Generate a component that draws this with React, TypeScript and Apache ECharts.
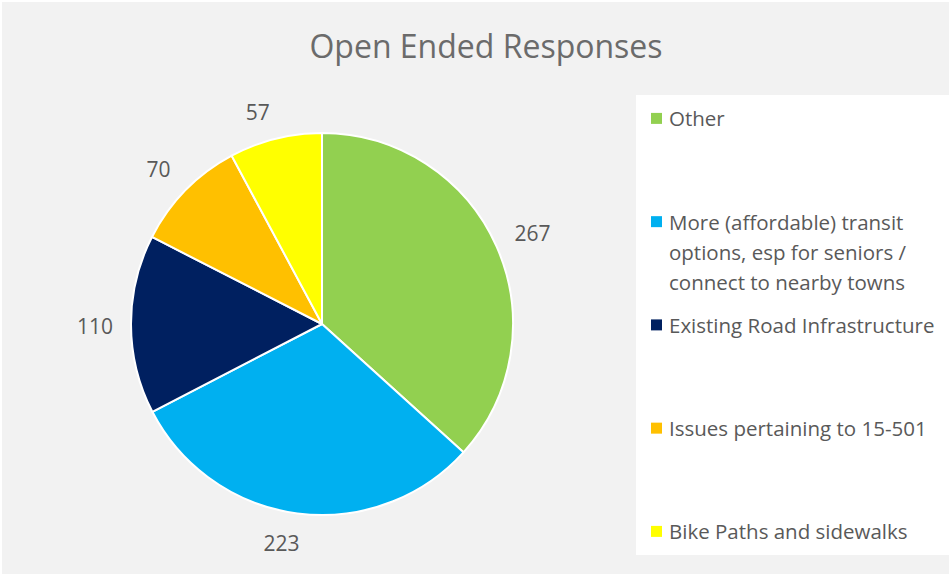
import React, { useEffect, useRef } from "react";
import * as echarts from "echarts";

const chartTitle = "Open Ended Responses";
const categories = [
  "Other",
  "More (affordable) transit\noptions, esp for seniors /\nconnect to nearby towns",
  "Existing Road Infrastructure",
  "Issues pertaining to 15-501",
  "Bike Paths and sidewalks",
];
const values = [267, 223, 110, 70, 57];
const colors = ["#92D050", "#00B0F0", "#002060", "#FFC000", "#FFFF00"];

export default function App() {
  const ref = useRef<HTMLDivElement>(null);
  useEffect(() => {
    if (!ref.current) return;
    const chart = echarts.init(ref.current, null, { renderer: "svg" });
    const FONT = "'Open Sans', sans-serif";
    const TEXT = "#595959";
    const cx = 320;
    const cy = 322;
    const R = 191;
    const legendX = 649;
    const legendY0 = 116.4;
    const legendStep = 103.25;

    const graphics: any[] = [
      {
        type: "rect",
        shape: { x: 634, y: 93, width: 320, height: 460 },
        style: { fill: "#ffffff" },
        z: 0,
      },
      {
        type: "text",
        x: 484,
        y: 43,
        style: {
          text: chartTitle,
          font: `32px ${FONT}`,
          fill: "#6b6b6b",
          align: "center",
          verticalAlign: "middle",
        },
        z: 1,
      },
    ];
    categories.forEach((name, i) => {
      const yc = legendY0 + i * legendStep;
      graphics.push({
        type: "rect",
        shape: { x: legendX, y: yc - 5.5, width: 11, height: 11 },
        style: { fill: colors[i] },
        z: 1,
      });
      graphics.push({
        type: "text",
        x: legendX + 18,
        y: yc - 15,
        style: {
          text: name,
          font: `20.5px ${FONT}`,
          fill: TEXT,
          lineHeight: 30,
          verticalAlign: "top",
        },
        z: 1,
      });
    });

    chart.setOption({
      animation: false,
      backgroundColor: "#f2f2f2",
      graphic: graphics,
      series: [
        {
          type: "pie",
          center: [cx, cy],
          radius: R,
          startAngle: 90,
          clockwise: true,
          data: categories.map((name, i) => ({
            name,
            value: values[i],
            itemStyle: { color: colors[i] },
          })),
          itemStyle: { borderColor: "#ffffff", borderWidth: 2 },
          label: {
            show: true,
            position: "outside",
            formatter: "{c}",
            fontFamily: FONT,
            fontSize: 21,
            color: TEXT,
          },
          labelLine: {
            show: true,
            length: 4,
            length2: 0,
            lineStyle: { opacity: 0, width: 0 },
          },
          labelLayout: (params: any) => {
            const pts = params.labelLinePoints;
            if (!pts) return {};
            const p0 = pts[0];
            let dx = p0[0] - cx;
            let dy = p0[1] - cy;
            const len = Math.hypot(dx, dy) || 1;
            dx /= len;
            dy /= len;
            const hw = params.labelRect.width / 2;
            const hh = params.labelRect.height * 0.4;
            const d = R + 18 + Math.abs(dx) * hw + Math.abs(dy) * hh;
            const shift = Math.sign(dx) * 14 * (1 - Math.abs(dx));
            return {
              x: cx + dx * d + shift,
              y: cy + dy * d + 1.5,
              align: "center",
              verticalAlign: "middle",
            };
          },
          emphasis: { disabled: true },
        },
      ],
    });
    return () => chart.dispose();
  }, []);
  return (
    <div
      ref={ref}
      style={{ position: "absolute", left: 2, top: 2, width: 947, height: 572 }}
    />
  );
}
